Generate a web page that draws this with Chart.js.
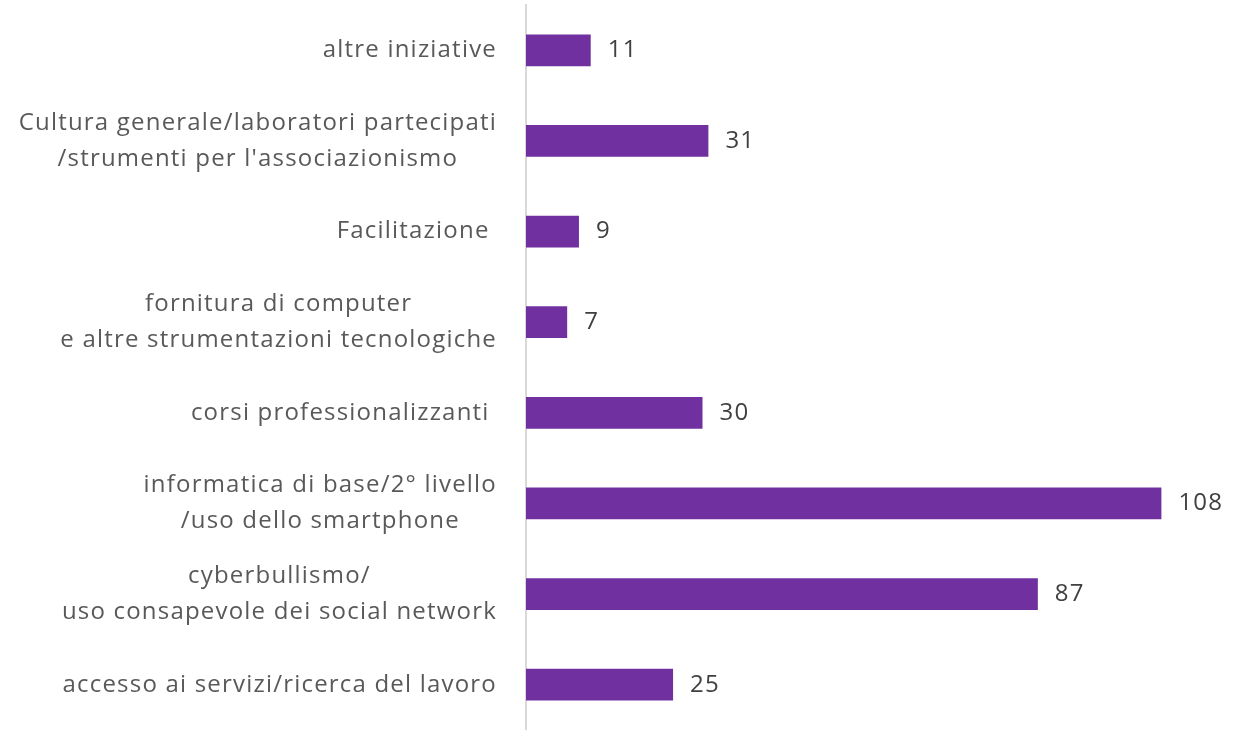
<!DOCTYPE html>
<html>
<head>
<meta charset="utf-8">
<script src="https://cdn.jsdelivr.net/npm/chart.js@4.4.1/dist/chart.umd.min.js"></script>
<style>
   html, body { margin: 0; padding: 0; background: #ffffff; }
   #wrap { width: 1239px; height: 730px; position: relative; }
</style>
</head>
<body>
<div id="wrap"><canvas id="chart"></canvas></div>
<script>

/* categorie, dall'alto verso il basso (una riga per elemento) */
let categories = [
   ["altre iniziative"],
   ["Cultura generale/laboratori partecipati", "/strumenti per l'associazionismo"],
   ["Facilitazione "],
   ["fornitura di computer", "e altre strumentazioni tecnologiche"],
   ["corsi professionalizzanti "],
   ["informatica di base/2° livello", "/uso dello smartphone"],
   ["cyberbullismo/", "uso consapevole dei social network"],
   ["accesso ai servizi/ricerca del lavoro"]
];

let values = [11, 31, 9, 7, 30, 108, 87, 25];

let xMax = 120;

let labelFont = "24px 'Open Sans'";

/* etichette categorie: blocco allineato a destra, righe centrate */
let categoryLabels = {

   id: "categoryLabels",

   afterDraw: function(chart){

      let ctx = chart.ctx;
      let yScale = chart.scales.y;
      let right = chart.chartArea.left - 29;
      let lineHeight = 36;

      ctx.save();
      ctx.font = labelFont;
      ctx.letterSpacing = "1.2px";
      ctx.fillStyle = "#595959";
      ctx.textAlign = "center";
      ctx.textBaseline = "middle";

      categories.forEach(function(lines, i){

         let y = yScale.getPixelForValue(i);
         let w = Math.max.apply(null, lines.map(l => ctx.measureText(l).width));
         let cx = right - w / 2;
         let y0 = y - (lines.length - 1) * lineHeight / 2;

         lines.forEach(function(line, k){
            ctx.fillText(line, cx, y0 + k * lineHeight);
         });

      });

      /* valori a destra delle barre */
      let meta = chart.getDatasetMeta(0);

      ctx.fillStyle = "#404040";
      ctx.textAlign = "left";

      meta.data.forEach(function(bar, i){
         ctx.fillText(String(values[i]), bar.x + 17, bar.y);
      });

      ctx.restore();

   }

};

let ctx = document.getElementById("chart").getContext("2d");

new Chart(ctx, {

   type: "bar",

   data: {
      labels: categories.map(c => c.join(" ")),
      datasets: [{
         data: values,
         backgroundColor: "#7030a0",
         categoryPercentage: 1,
         barPercentage: 0.35
      }]
   },

   options: {

      indexAxis: "y",
      responsive: true,
      maintainAspectRatio: false,
      animation: false,

      layout: {
         padding: { left: 518, right: 7, top: 5, bottom: 0 }
      },

      plugins: {
         legend: { display: false },
         tooltip: { enabled: false }
      },

      scales: {
         x: {
            display: false,
            min: 0,
            max: xMax
         },
         y: {
            ticks: { display: false },
            grid: { display: false },
            border: { display: true, color: "#d9d9d9", width: 2 }
         }
      }

   },

   plugins: [categoryLabels]

});

</script>
</body>
</html>
